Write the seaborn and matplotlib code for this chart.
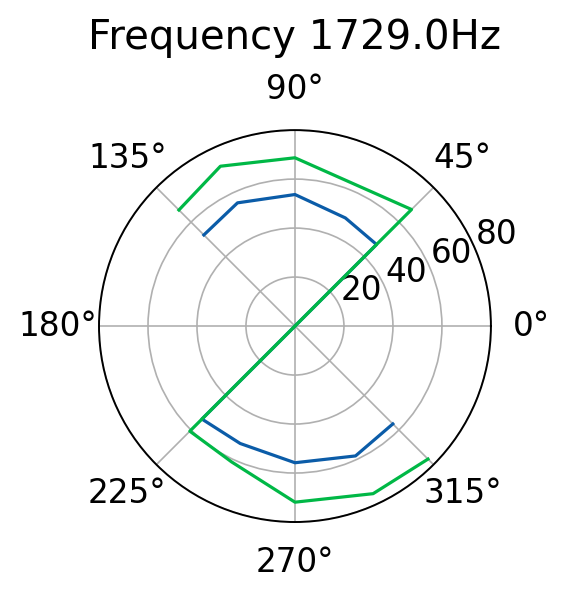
import numpy as np
import pandas as pd
import matplotlib
matplotlib.use("Agg")
import matplotlib.pyplot as plt
import seaborn as sns

# angles in degrees, in the order the points are joined
angles = [135, 115, 90, 65, 45, 225, 245, 270, 295, 315]
blue_r = [52.6, 55.5, 53.7, 48.7, 47.1, 53.7, 52.9, 55.8, 58.5, 56.5]
green_r = [67.0, 72.0, 68.7, 62.8, 67.3, 60.7, 61.2, 71.9, 75.5, 76.8]
series_names = ["a", "b"]
colors = ["#0b5ca8", "#00b846"]
title = "Frequency 1729.0Hz"

df = pd.DataFrame({
    "theta": np.deg2rad(angles * 2),
    "r": blue_r + green_r,
    "series": [series_names[0]] * len(angles) + [series_names[1]] * len(angles),
})

fig = plt.figure(figsize=(5.68, 5.98), dpi=100)
ax = fig.add_axes([0.1743, 0.127, 0.690, 0.6555], projection="polar")

sns.lineplot(data=df, x="theta", y="r", hue="series", palette=colors,
             sort=False, estimator=None, linewidth=2.3, legend=False, ax=ax)

ax.set_rmax(80)
ax.set_rticks([20, 40, 60, 80])
ax.set_xlabel("")
ax.set_ylabel("")
ax.grid(True, linewidth=1.2)
ax.spines["polar"].set_linewidth(1.4)
ax.tick_params(axis="both", labelsize=23.5)
ax.tick_params(axis="x", pad=19)
ax.set_title(title, fontsize=29, pad=17)

fig.savefig("out.png", dpi=100)
